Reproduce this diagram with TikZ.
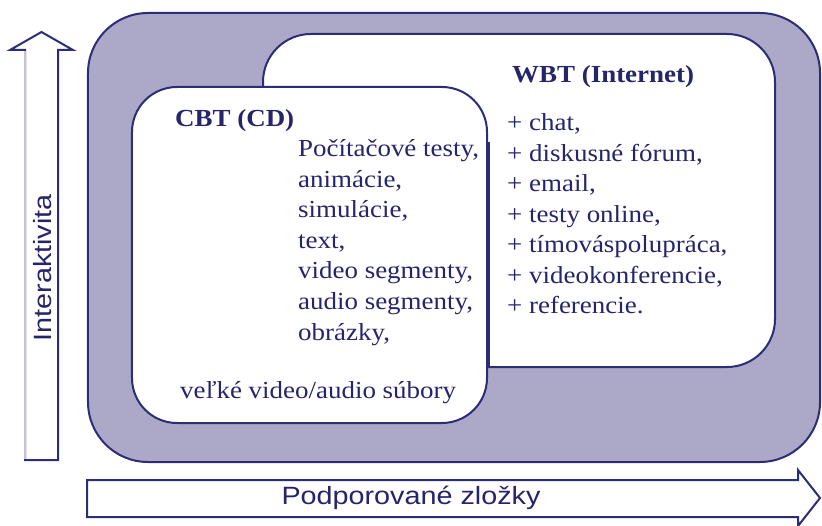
\documentclass[tikz,border=0pt]{standalone}
\usepackage{fontspec}
\setmainfont{Liberation Serif}[FakeStretch=1.1]
\setsansfont{Liberation Sans}[FakeStretch=1.15]
\definecolor{linec}{RGB}{45,44,118}
\definecolor{fillc}{RGB}{171,168,200}
\definecolor{textc}{RGB}{38,37,105}
\definecolor{lightedge}{RGB}{196,194,218}
\tikzset{
  box/.style={draw=linec, line width=2bp, rectangle, inner sep=0pt},
  blockarrow/.style={draw=linec, line width=2bp, fill=white, line join=miter},
  serif/.style={font=\fontsize{24.5bp}{30.5bp}\selectfont, text=textc, inner sep=0pt},
  serifb/.style={font=\fontsize{24.5bp}{30.5bp}\selectfont\bfseries, text=textc, inner sep=0pt},
  sanslabel/.style={font=\sffamily\fontsize{25bp}{30bp}\selectfont, text=textc, inner sep=0pt},
  listtext/.style={serif, align=left, anchor=base west}
}
\begin{document}
\begin{tikzpicture}[x=1bp, y=-1bp]
\useasboundingbox (0,0) rectangle (822,526);
% outer support region
\node[box, fill=fillc, rounded corners=60bp, minimum width=732bp, minimum height=449bp] (outer) at (454,237.5) {};
% WBT region
\node[box, fill=white, rounded corners=48bp, minimum width=512bp, minimum height=333bp] (wbt) at (519,200.5) {};
% CBT region
\node[box, fill=white, rounded corners=45bp, minimum width=355bp, minimum height=336bp] (cbt) at (309.5,255) {};
\draw[linec, line width=3.2bp] ([yshift=-56bp]cbt.north east) -- (cbt.east |- wbt.south);
% vertical arrow
\coordinate (vb1) at (25,460);
\coordinate (vb2) at (58,460);
\draw[blockarrow] (vb1) -- (25,50) -- (10,50) -- (41.5,32) -- (73,50) -- (58,50) -- (vb2) -- cycle;
\draw[lightedge, line width=2bp] (25,459) -- (25,51);
\node[sanslabel, rotate=90] (interakt) at (43,268) {Interaktivita};
% horizontal arrow
\coordinate (hb1) at (87,480);
\coordinate (hb2) at (87,517);
\draw[blockarrow] (hb1) -- (798,480) -- (798,470) -- (820,498) -- (798,526) -- (798,517) -- (hb2) -- cycle;
\node[sanslabel] (podpor) at (411,498) {Podporované zložky};
% texts
\node[serifb, anchor=base west] (cbttitle) at (175,127) {CBT (CD)};
\node[listtext] (cbtlist) at (298,340) {Počítačové testy,\\animácie,\\simulácie,\\text,\\video segmenty,\\audio segmenty,\\obrázky,};
\node[serif, anchor=base west] (velke) at (180,398) {veľké video/audio súbory};
\node[serifb, anchor=base west] (wbttitle) at (512,83) {WBT (Internet)};
\node[listtext] (wbtlist) at (507,314) {+ chat,\\+ diskusné fórum,\\+ email,\\+ testy online,\\+ tímováspolupráca,\\+ videokonferencie,\\+ referencie.};
\end{tikzpicture}
\end{document}
